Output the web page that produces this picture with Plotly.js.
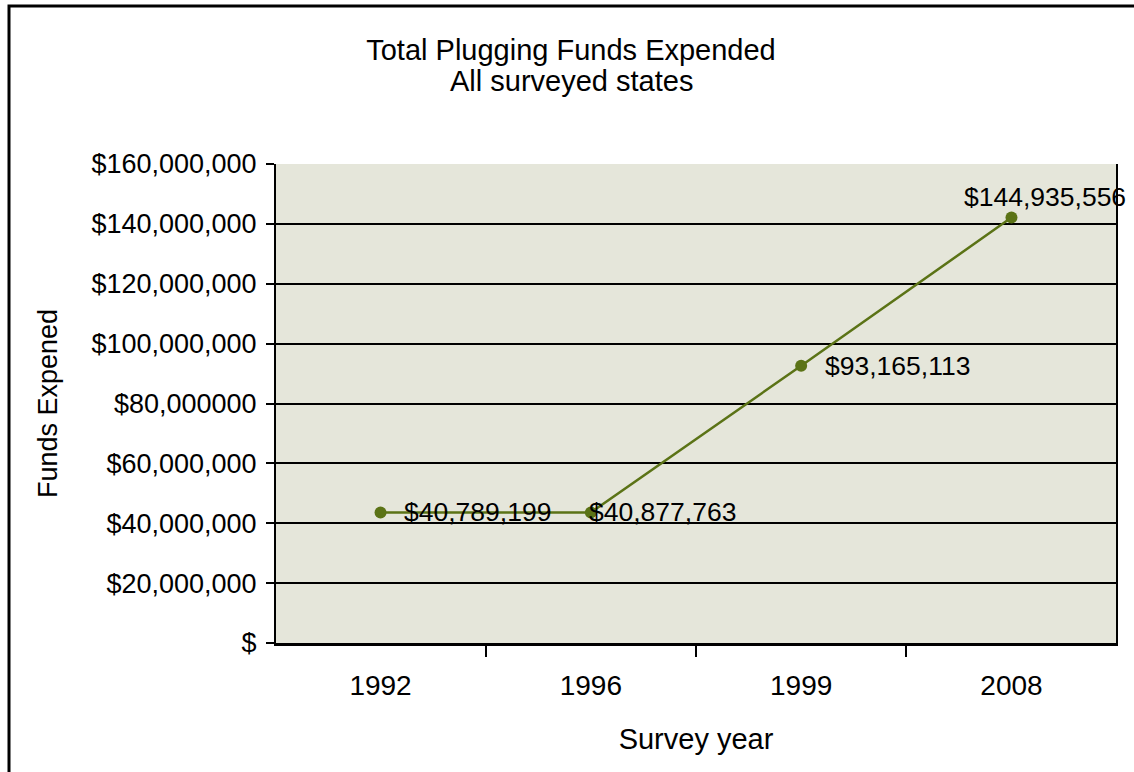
<!DOCTYPE html>
<html>
<head>
<meta charset="utf-8">
<script src="https://cdn.plot.ly/plotly-3.0.1.min.js"></script>
<style>
  html, body { margin: 0; padding: 0; background: #ffffff; }
  #chart { width: 1134px; height: 772px; }
</style>
</head>
<body>
<div id="chart"></div>
<script>
// ---- Data ----
const years = ['1992', '1996', '1999', '2008'];
// Values as plotted (marker positions)
const plottedFunds = [43600000, 43600000, 92600000, 142100000];
// Values printed as data labels
const labelFunds = [40789199, 40877763, 93165113, 144935556];
// Y-axis ticks
const yTickVals = [0, 20000000, 40000000, 60000000, 80000000, 100000000, 120000000, 140000000, 160000000];
const yTickText = ['$', '$20,000,000', '$40,000,000', '$60,000,000', '$80,000000', '$100,000,000', '$120,000,000', '$140,000,000', '$160,000,000'];
const titleLines = ['Total Plugging Funds Expended', 'All surveyed states'];

// ---- Styling ----
const FONT = '"Liberation Sans", Arial, Helvetica, sans-serif';
const GREEN = '#5b7316';
const W = 1134, H = 772;
const M = { l: 276, r: 18, t: 164, b: 129 };
const PW = W - M.l - M.r, PH = H - M.t - M.b;

const fmt = v => '$' + v.toLocaleString('en-US');
const px2x = p => (p - M.l) / PW;
const px2y = p => 1 - (p - M.t) / PH;

// label placement (per-point offsets, px)
const labelStyle = [
  { xanchor: 'left', yanchor: 'middle', xshift: 21, yshift: 0 },
  { xanchor: 'left', yanchor: 'middle', xshift: -4, yshift: 0 },
  { xanchor: 'left', yanchor: 'middle', xshift: 22, yshift: 0 },
  { xanchor: 'center', yanchor: 'bottom', xshift: 34, yshift: 4 }
];

const annotations = years.map((yr, i) => Object.assign({
  x: i, y: plottedFunds[i], xref: 'x', yref: 'y',
  text: fmt(labelFunds[i]), showarrow: false,
  font: { family: FONT, size: 26.5, color: '#000' }
}, labelStyle[i]));

// second title line
annotations.push({
  xref: 'paper', yref: 'paper', x: px2x(571), y: px2y(81),
  xanchor: 'center', yanchor: 'middle', showarrow: false,
  text: titleLines[1],
  font: { family: FONT, size: 29, color: '#000' }
});

const trace = {
  type: 'scatter', mode: 'lines+markers',
  x: years, y: plottedFunds,
  line: { color: GREEN, width: 2.5 },
  marker: { color: GREEN, size: 12 },
  cliponaxis: false,
  hoverinfo: 'x+y'
};

const layout = {
  width: W, height: H,
  margin: M,
  paper_bgcolor: '#ffffff',
  plot_bgcolor: '#e5e6da',
  showlegend: false,
  font: { family: FONT, size: 26, color: '#000' },
  title: {
    text: titleLines[0],
    font: { family: FONT, size: 29, color: '#000' },
    xref: 'container', x: 571 / W, xanchor: 'center',
    yref: 'container', y: 1 - 40 / H, yanchor: 'top'
  },
  xaxis: {
    type: 'category',
    tickson: 'boundaries',
    ticks: 'outside', ticklen: 11, tickwidth: 2, tickcolor: '#000',
    showline: true, linecolor: '#000', linewidth: 3,
    mirror: false,
    showgrid: false, zeroline: false,
    tickfont: { family: FONT, size: 28, color: '#000' },
    ticklabelstandoff: 15,
    range: [-0.497, 3.497],
    title: { text: 'Survey year', font: { family: FONT, size: 29, color: '#000' }, standoff: 30 }
  },
  yaxis: {
    range: [0, 160000000],
    tickvals: yTickVals, ticktext: yTickText,
    ticks: 'outside', ticklen: 8, tickwidth: 2, tickcolor: '#000',
    showline: true, linecolor: '#000', linewidth: 2,
    mirror: true,
    showgrid: true, gridcolor: '#000', gridwidth: 2,
    zeroline: false,
    tickfont: { family: FONT, size: 27, color: '#000' },
    ticklabelstandoff: 4,
    title: { text: 'Funds Expened', font: { family: FONT, size: 27, color: '#000' }, standoff: 26 }
  },
  annotations: annotations,
  shapes: [
    {
      type: 'rect', xref: 'paper', yref: 'paper', layer: 'below',
      x0: px2x(9), x1: px2x(W + 20), y0: px2y(H + 20), y1: px2y(6),
      line: { color: '#000', width: 3 }, fillcolor: 'rgba(0,0,0,0)'
    }
  ]
};

Plotly.newPlot('chart', [trace], layout, { displayModeBar: false, staticPlot: true });
</script>
</body>
</html>
